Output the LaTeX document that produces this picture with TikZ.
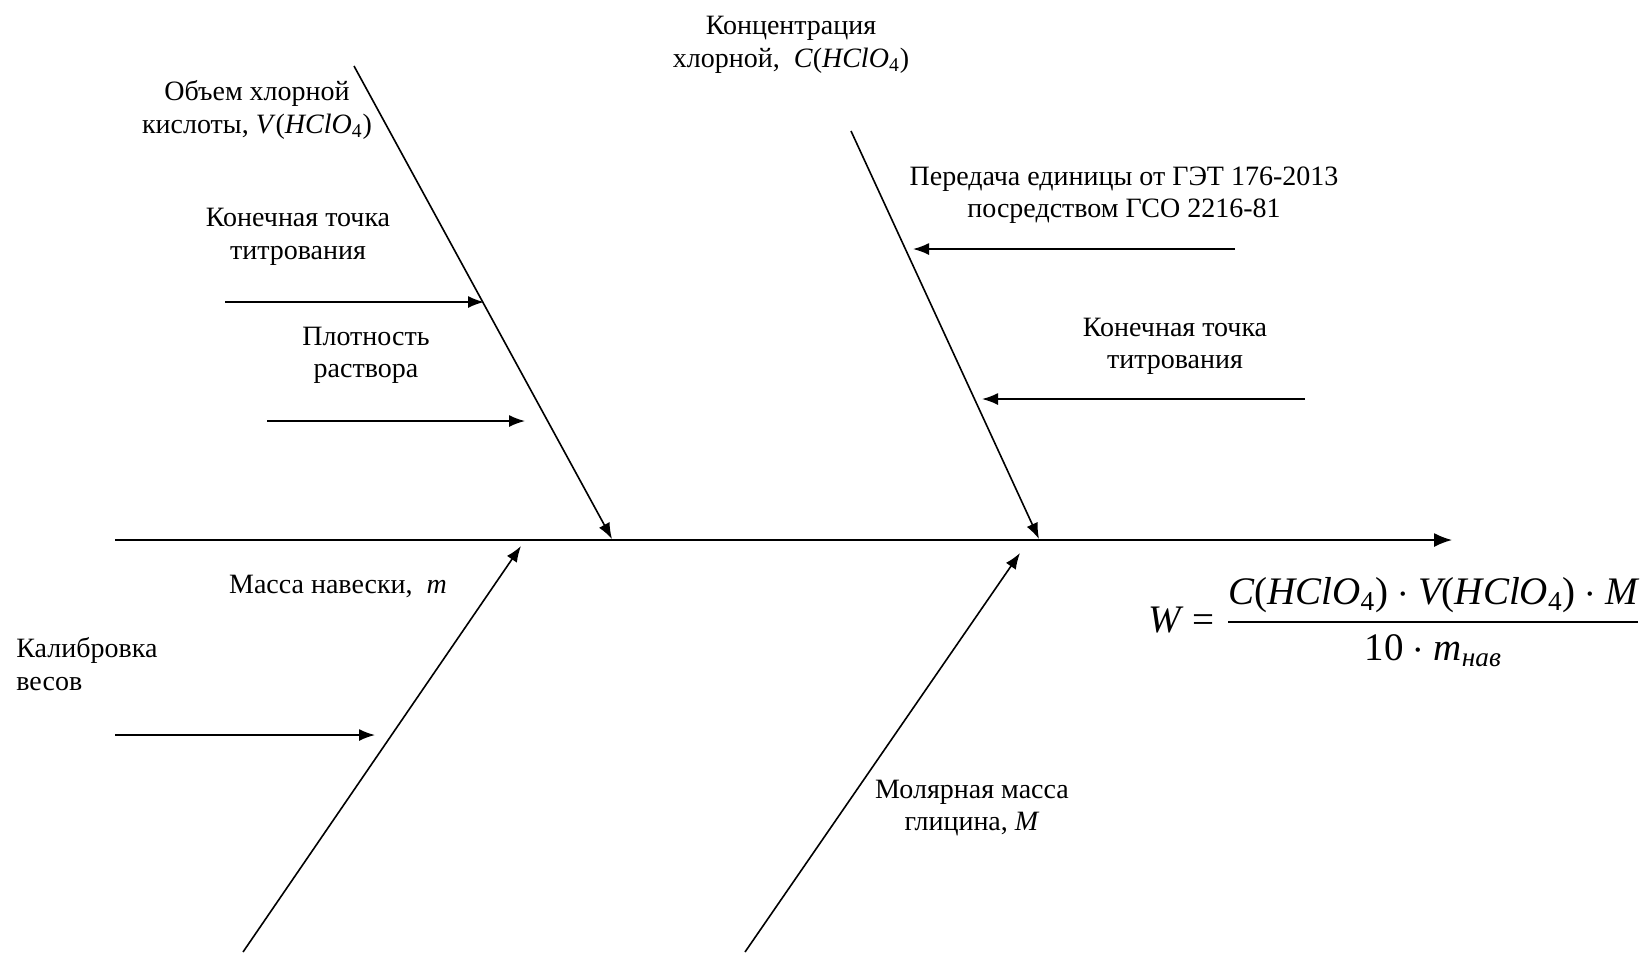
\documentclass[tikz,border=0pt]{standalone}
\usepackage{fontspec}
\setmainfont{Liberation Serif}
\usepackage{amsmath}
\usetikzlibrary{arrows.meta}
\newcommand{\HClO}{\textit{HClO}\textsubscript{4}}
\newcommand{\fHClO}{\text{(}\textit{HClO}_{\text{4}}\text{)}}

\begin{document}
\begin{tikzpicture}[x=0.5pt,y=-0.5pt]
    \tikzset{line/.style={draw,line width=0.8pt}}
    \tikzset{arrow/.style={line,-{Latex[length=8pt,width=6pt]}}}
    \tikzset{label/.style={align=center,inner sep=0pt,font=\fontsize{14}{16.2}\selectfont}}

    \useasboundingbox (0,0) rectangle (1641,955);

    % spine
    \coordinate (s0) at (115,540);
    \coordinate (s1) at (1452,540);
    \path[line,-{Latex[length=9pt,width=7pt]}] (s0) to (s1);

    % bones
    \coordinate (vA) at (354,66);   \coordinate (vB) at (612,539);
    \coordinate (cA) at (851,131);  \coordinate (cB) at (1039,539);
    \coordinate (mA) at (243,952);  \coordinate (mB) at (521,546);
    \coordinate (gA) at (745,952);  \coordinate (gB) at (1020,553);
    \path[arrow] (vA) to (vB);
    \path[arrow] (cA) to (cB);
    \path[arrow] (mA) to (mB);
    \path[arrow] (gA) to (gB);

    % small causes
    \coordinate (k1A) at (225,302);  \coordinate (k1B) at (484,302);
    \coordinate (pA) at (267,421);   \coordinate (pB) at (525,421);
    \coordinate (gsA) at (1235,249); \coordinate (gsB) at (913,249);
    \coordinate (k2A) at (1305,399); \coordinate (k2B) at (982,399);
    \coordinate (wA) at (115,735);   \coordinate (wB) at (375,735);
    \path[arrow] (k1A) to (k1B);
    \path[arrow] (pA) to (pB);
    \path[arrow] (gsA) to (gsB);
    \path[arrow] (k2A) to (k2B);
    \path[arrow] (wA) to (wB);

    \node[label] (vol) at (257,110) {Объем хлорной\\кислоты, \textit{V}(\HClO)};
    \node[label] (end1) at (298,237) {Конечная точка\\титрования};
    \node[label] (dens) at (366,355) {Плотность\\раствора};
    \node[label] (conc) at (791,45) {Концентрация\\хлорной,\ \ \textit{C}(\HClO)};
    \node[label] (get) at (1124,195) {Передача единицы от ГЭТ 176-2013\\посредством ГСО 2216-81};
    \node[label] (end2) at (1175,346) {Конечная точка\\титрования};
    \node[label] (mass) at (338,586) {Масса навески,\ \ \textit{m}};
    \node[label,align=left,anchor=west] (cal) at (16,664) {Калибровка\\весов};
    \node[label] (mol) at (972,808) {Молярная масса\\глицина, \textit{M}};

    \node[inner sep=0pt,anchor=east,font=\fontsize{19.5}{23}\selectfont] (formula) at (1641,622)
        {$\textit{W}\mathrel{\text{=}}\dfrac{\textit{C}\fHClO\cdot\textit{V}\fHClO\cdot\textit{M}}{\text{10}\cdot\textit{m}_{\textit{нав}}}$};
\end{tikzpicture}
\end{document}
